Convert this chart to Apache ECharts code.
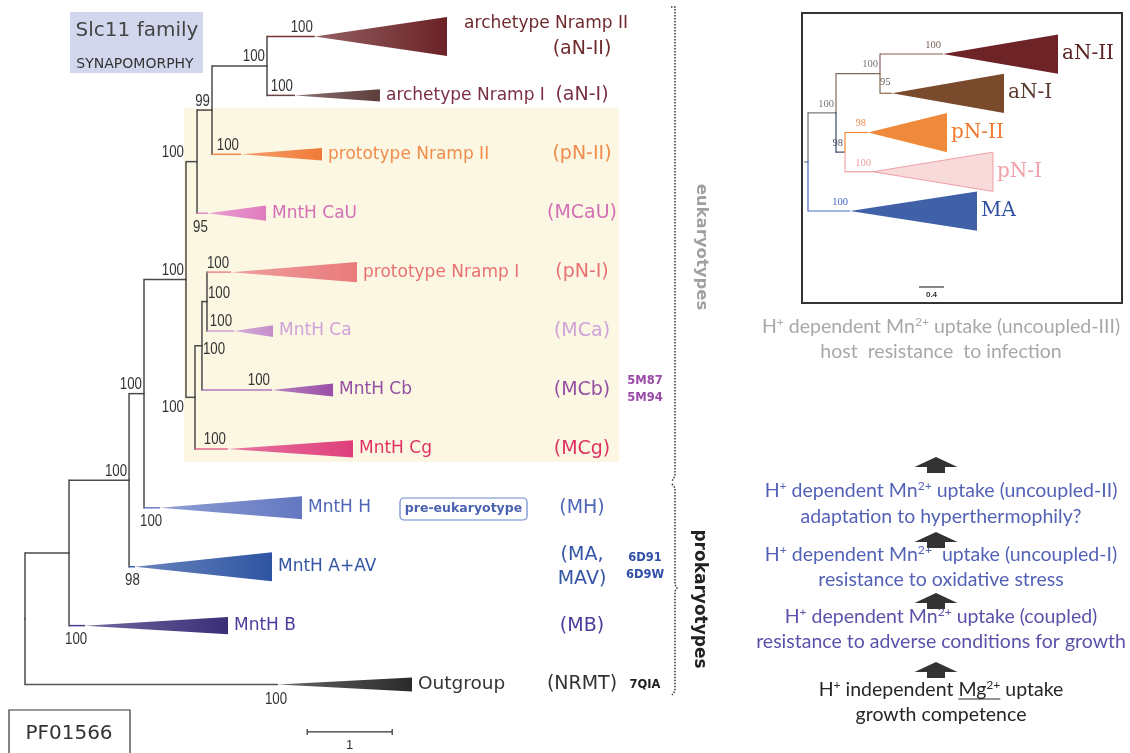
<!DOCTYPE html>
<html><head><meta charset="utf-8">
<script src="https://cdn.jsdelivr.net/npm/echarts@6.0.0/dist/echarts.min.js"></script>
<style>html,body{margin:0;padding:0;background:#fff;}#chart{width:1130px;height:753px;}</style>
</head><body><div id="chart"></div>
<script>
// ================= DATA =================
// Main Slc11 tree – internal nodes (depth in substitutions/site, scale bar = 1)
const innerNames   = ['root','A','B','C','D','E','F','G','H','I','J'];
const innerParent  = [null,'root','A','B','C','D','E','F','D','H','I'];
const innerDepth   = [0,0.518,1.224,1.400,1.894,2.024,2.200,2.847,2.000,2.082,2.141];
const innerSupport = [null,null,100,100,100,100,99,100,100,100,100];
// Main tree – collapsed clades
const cladeNames   = ['aN-II','aN-I','pN-II','MCaU','pN-I','MCa','MCb','MCg','MH','MA','MB','Out'];
const cladeParent  = ['G','G','F','E','J','J','I','H','C','B','A','root'];
const cladeRow     = [0,1,2,3,4,5,6,7,8,9,10,11];
const cladeApex    = [3.41,3.176,2.541,2.153,2.424,2.459,2.906,2.388,1.588,1.294,0.706,2.976];
const cladeEnd     = [4.965,4.176,3.494,2.835,3.906,2.918,3.624,3.859,3.259,2.906,2.388,4.553];
const cladeSpread  = [0.33,0.105,0.105,0.13,0.17,0.10,0.11,0.145,0.195,0.245,0.145,0.12];
const cladeSupport = [100,100,100,95,100,100,100,100,100,98,100,100];
const cladeTitle   = ['archetype Nramp II','archetype Nramp I','prototype Nramp II','MntH CaU','prototype Nramp I','MntH Ca','MntH Cb','MntH Cg','MntH H','MntH A+AV','MntH B','Outgroup'];
const cladeCode    = ['(aN-II)','(aN-I)','(pN-II)','(MCaU)','(pN-I)','(MCa)','(MCb)','(MCg)','(MH)','(MA,\nMAV)','(MB)','(NRMT)'];
const cladePDB     = ['','','','','','','5M87\n5M94','','','6D91\n6D9W','','7QIA'];
const mainScale    = [3.32, 11.805, 1];      // start, row, length
const mainScaleLabel = '1';
// Inset tree
const insetInnerNames   = ['base','r','n1','n2','n3'];
const insetInnerParent  = [null,'base','r','n1','n1'];
const insetInnerDepth   = [-0.064,0,0.448,1.152,0.592];
const insetInnerSupport = [null,null,100,100,98];
const insetCladeNames   = ['aN-II','aN-I','pN-II','pN-I','MA'];
const insetCladeParent  = ['n2','n2','n3','n3','r'];
const insetCladeRow     = [0,1,2,3,4];
const insetCladeApex    = [2.16,1.344,0.96,1.04,0.672];
const insetCladeEnd     = [4.0,3.136,2.224,2.96,2.704];
const insetCladeSpread  = [0.5,0.5,0.5,0.5,0.5];
const insetCladeSupport = [100,95,98,100,100];
const insetScale        = [1.776, 5.936, 0.4];
const insetScaleLabel   = '0.4';
// Functional stages (text)
const stageText = [
  ['H^+ dependent Mn^2+ uptake (uncoupled-III)', 'host  resistance  to infection'],
  ['H^+ dependent Mn^2+ uptake (uncoupled-II)', 'adaptation to hyperthermophily?'],
  ['H^+ dependent Mn^2+  uptake (uncoupled-I)', 'resistance to oxidative stress'],
  ['H^+ dependent Mn^2+ uptake (coupled)', 'resistance to adverse conditions for growth'],
  ['H^+ independent _Mg^2+_ uptake', 'growth competence']
];

// ================= STYLE =================
const SANS = "'DejaVu Sans', Verdana, sans-serif";
const BOOT = "'Liberation Sans', Arial, sans-serif";
const SERIF = "'DejaVu Serif', serif";
const GRAY = '#4a4a4a';
const cladeStyle = {
  'aN-II': {tri:'#6b2226', br:'#7a3434', txt:'#6e2a2c'},
  'aN-I':  {tri:'#5d3d3a', br:'#6a4444', txt:'#7b2f42'},
  'pN-II': {tri:'#f07a38', br:'#f08848', txt:'#f08c4c'},
  'MCaU':  {tri:'#e07abf', br:'#e58cc8', txt:'#d46fb8'},
  'pN-I':  {tri:'#e97a7a', br:'#ec8a8a', txt:'#e87272'},
  'MCa':   {tri:'#c48dca', br:'#cfa0d4', txt:'#d0a2d8'},
  'MCb':   {tri:'#9a4ea6', br:'#b27abf', txt:'#9450a2', pdb:'#9a4aa8'},
  'MCg':   {tri:'#df3f7b', br:'#e4648f', txt:'#e03262'},
  'MH':    {tri:'#6378c2', br:'#6a7ec4', txt:'#5066b6'},
  'MA':    {tri:'#2e54a2', br:'#3a5eaa', txt:'#3555a5', pdb:'#3050a8'},
  'MB':    {tri:'#3a2e78', br:'#4a4090', txt:'#4a3c9c'},
  'Out':   {tri:'#2a2a2a', br:'#555555', txt:'#333333', pdb:'#222', big:true}
};
const mainSupPlace = {E:'pa', H:'pb', I:'br', J:'ar', 'c:MCaU':'pb2', 'c:MH':'pb2', 'c:MA':'pb2', 'c:MB':'pb2', 'c:Out':'bc'};
const insetStyle = {
  base:{stem:'#777', br:'#777'},
  r:{stem:'#777', br:'#777'},
  n1:{stem:'#6e6e6e', br:'#777777', sup:'#777'},
  n2:{stem:'#806a60', br:'#806a60', sup:'#777'},
  n3:{stem:'#3b4768', br:'#3b4768', sup:'#4a5068'},
  'aN-II':{stem:'#806060', br:'#8a5c58', tri:'#6e2427', txt:'#5e2326', sup:'#7a6258'},
  'aN-I': {stem:'#806a50', br:'#8a6a50', tri:'#7a4a2c', txt:'#5a3a2c', sup:'#6a5a50'},
  'pN-II':{stem:'#ef8a3c', br:'#ef8a3c', tri:'#ef8a3c', txt:'#ef7a30', sup:'#ec9050'},
  'pN-I': {stem:'#f0a8a8', br:'#f0a0a0', tri:'#f8dada', triStroke:'#eea0a8', txt:'#f0a0a8', sup:'#f0a0a0'},
  'MA':   {stem:'#4a6ac8', br:'#4a6ac8', tri:'#4060a8', txt:'#3050a0', sup:'#4a6ac8'}
};
const insetSupPlace = {'c:aN-I':'pr'};

// ================= HELPERS =================
function layoutTree(iN, iP, iD, iS, cN, cP, cR, cA, cE, cSp, cS) {
  const nodes = {}, list = [];
  iN.forEach((n, i) => { nodes[n] = {key:n, name:n, parent:iP[i], x:iD[i], support:iS[i], inner:true, kids:[]}; list.push(nodes[n]); });
  cN.forEach((n, i) => { const k = 'c:' + n; nodes[k] = {key:k, name:n, idx:i, parent:cP[i], x:cA[i], end:cE[i], y:cR[i], half:cSp[i], support:cS[i], inner:false, kids:[]}; list.push(nodes[k]); });
  list.forEach(nd => { if (nd.parent) nodes[nd.parent].kids.push(nd); });
  function gy(nd) { if (nd.y != null) return nd.y; const ys = nd.kids.map(gy); nd.y = (Math.min(...ys) + Math.max(...ys)) / 2; return nd.y; }
  list.forEach(gy);
  return {nodes, list};
}
function mix(hex, t) {
  const c = hex.replace('#', ''); const f = c.length === 3 ? c.split('').map(x => x + x).join('') : c;
  const r = parseInt(f.substr(0,2),16), g = parseInt(f.substr(2,2),16), b = parseInt(f.substr(4,2),16);
  const m = v => Math.round(v + (255 - v) * t);
  return 'rgb(' + m(r) + ',' + m(g) + ',' + m(b) + ')';
}
function supportPos(code, p, pp) {
  switch (code) {
    case 'pa':  return {x:pp[0]-2, y:p[1]-9, align:'right'};
    case 'pb':  return {x:pp[0]-2, y:p[1]+10, align:'right'};
    case 'pb2': return {x:pp[0]-4, y:p[1]+14, align:'left'};
    case 'ar':  return {x:p[0]+1, y:p[1]-8, align:'left'};
    case 'br':  return {x:p[0]+1, y:p[1]+4, align:'left'};
    case 'bc':  return {x:p[0]-2, y:p[1]+15, align:'center'};
    case 'am':  return {x:(p[0]+pp[0])/2, y:p[1]-12, align:'center'};
    case 'pr':  return {x:pp[0], y:p[1]-11, align:'left'};
    default:    return {x:p[0]-2, y:p[1]-9, align:'right'};
  }
}
function makeRenderer(tree, cfg) {
  return function (params, api) {
    const nd = tree.list[params.dataIndex];
    const st = cfg.style(nd);
    const ch = [];
    const p = api.coord([nd.x, nd.y]);
    let pp = p;
    if (nd.parent) {
      const P = tree.nodes[nd.parent];
      const a = api.coord([P.x, P.y]);
      pp = api.coord([P.x, nd.y]);
      ch.push({type:'line', shape:{x1:a[0], y1:a[1], x2:pp[0], y2:pp[1]}, style:{stroke:st.stem, lineWidth:cfg.lw, lineCap:'square'}});
      ch.push({type:'line', shape:{x1:pp[0], y1:pp[1], x2:p[0], y2:p[1]}, style:{stroke:st.br, lineWidth:cfg.lw}});
    }
    if (!nd.inner) {
      const e1 = api.coord([nd.end, nd.y - nd.half]);
      const e2 = api.coord([nd.end, nd.y + nd.half]);
      const fill = cfg.gradient ? new echarts.graphic.LinearGradient(0, 0, 1, 0, [{offset:0, color:mix(st.tri, cfg.gradient)}, {offset:1, color:st.tri}]) : st.tri;
      ch.push({type:'polygon', shape:{points:[p, e1, e2]}, style:{fill:fill, stroke:st.triStroke || null, lineWidth:st.triStroke ? 1 : 0}});
    }
    if (nd.support != null) {
      const pos = supportPos(cfg.place[nd.key], p, pp);
      ch.push({type:'text', x:pos.x, y:pos.y, scaleX:cfg.supScale, style:{text:String(nd.support), x:0, y:0, align:pos.align, verticalAlign:'middle', font:cfg.supFont, fill:st.sup || '#333'}});
    }
    if (cfg.extra) cfg.extra(nd, p, api, ch, st);
    return {type:'group', children:ch};
  };
}

// ================= BUILD =================
const mainTree = layoutTree(innerNames, innerParent, innerDepth, innerSupport, cladeNames, cladeParent, cladeRow, cladeApex, cladeEnd, cladeSpread, cladeSupport);
const insetTree = layoutTree(insetInnerNames, insetInnerParent, insetInnerDepth, insetInnerSupport, insetCladeNames, insetCladeParent, insetCladeRow, insetCladeApex, insetCladeEnd, insetCladeSpread, insetCladeSupport);

const CODE_X = 582, PDB_X = 645, TITLE_RIGHT = 628;
const mainRenderer = makeRenderer(mainTree, {
  lw: 1.5, gradient: 0.28, place: mainSupPlace, supFont: '16px ' + BOOT, supScale: 0.83,
  style: nd => nd.inner ? {stem:GRAY, br:GRAY} : Object.assign({stem:GRAY}, cladeStyle[nd.name]),
  extra: (nd, p, api, ch, st) => {
    if (nd.inner) return;
    const e = api.coord([nd.end, nd.y]);
    const i = nd.idx;
    const titleFont = (st.big ? '18.5px ' : '17px ') + SANS;
    if (nd.name === 'aN-II') {
      ch.push({type:'text', style:{text:cladeTitle[i], x:TITLE_RIGHT, y:e[1]-12.5, align:'right', verticalAlign:'middle', font:titleFont, fill:st.txt}});
      ch.push({type:'text', style:{text:cladeCode[i], x:CODE_X, y:e[1]+12.5, align:'center', verticalAlign:'middle', font:'19px ' + SANS, fill:st.txt}});
    } else {
      ch.push({type:'text', style:{text:cladeTitle[i], x:e[0]+6, y:e[1], align:'left', verticalAlign:'middle', font:titleFont, fill:st.txt}});
      ch.push({type:'text', style:{text:cladeCode[i], x:CODE_X, y:e[1], align:'center', verticalAlign:'middle', font:'19px ' + SANS, fill:st.txt, lineHeight:24}});
    }
    if (cladePDB[i]) {
      ch.push({type:'text', style:{text:cladePDB[i], x:PDB_X, y:e[1], align:'center', verticalAlign:'middle', font:'bold 11.5px ' + SANS, fill:st.pdb || st.txt, lineHeight:17}});
    }
  }
});
const insetRenderer = makeRenderer(insetTree, {
  lw: 1.2, gradient: 0, place: insetSupPlace, supFont: '10.5px ' + "'Liberation Serif', serif", supScale: 1,
  style: nd => insetStyle[nd.name],
  extra: (nd, p, api, ch, st) => {
    if (nd.inner) return;
    const e = api.coord([nd.end, nd.y]);
    ch.push({type:'text', style:{text:nd.name, x:e[0]+4, y:e[1], align:'left', verticalAlign:'middle', font:'20px ' + SERIF, fill:st.txt}});
  }
});
function scaleRenderer(sc, label, font, tick, gap) {
  return function (params, api) {
    const a = api.coord([sc[0], sc[1]]), b = api.coord([sc[0] + sc[2], sc[1]]);
    const ch = [{type:'line', shape:{x1:a[0], y1:a[1], x2:b[0], y2:b[1]}, style:{stroke:'#333', lineWidth:1.2}}];
    if (tick) {
      ch.push({type:'line', shape:{x1:a[0], y1:a[1]-tick, x2:a[0], y2:a[1]+tick}, style:{stroke:'#333', lineWidth:1.2}});
      ch.push({type:'line', shape:{x1:b[0], y1:b[1]-tick, x2:b[0], y2:b[1]+tick}, style:{stroke:'#333', lineWidth:1.2}});
    }
    ch.push({type:'text', style:{text:label, x:(a[0]+b[0])/2, y:a[1]+gap, align:'center', verticalAlign:'middle', font:font, fill:'#333'}});
    return {type:'group', children:ch};
  };
}

// ---------- right panel text ----------
const RP_FONT = "Lato, 'Open Sans', sans-serif";
const cv = document.createElement('canvas').getContext('2d');
function tw(t, size) { cv.font = size + 'px ' + RP_FONT; return cv.measureText(t).width; }
let RP_SIZE = 18 * 370 / tw(stageText[3][1], 18);
RP_SIZE = Math.max(15, Math.min(21, RP_SIZE));
const SUP = RP_SIZE * 0.62;
function parseLine(s) {
  const toks = []; let ul = false;
  const re = /(\^[0-9+]+)|(_)|([^\^_]+)/g; let m;
  while ((m = re.exec(s))) {
    if (m[1]) toks.push({t:m[1].slice(1), sup:true, ul});
    else if (m[2]) ul = !ul;
    else toks.push({t:m[3], sup:false, ul});
  }
  return toks;
}
const stageColors = ['#a8a8a8', '#5462b6', '#5462b6', '#5a52aa', '#262626'];
const stageY = [[327,352],[491,517],[555,580],[617,642],[690,715]];
const arrowTop = [457, 532, 593, 662];
const CX = 941;
const graphics = [];
graphics.push({type:'rect', z:-10, shape:{x:184, y:108, width:435, height:354}, style:{fill:'#fbf7e3'}});
graphics.push({type:'rect', shape:{x:70, y:12, width:133, height:61}, style:{fill:'#d3d7ee'}});
graphics.push({type:'text', style:{text:'Slc11 family', x:137, y:31, align:'center', verticalAlign:'middle', font:'20px ' + SANS, fill:'#444'}});
graphics.push({type:'text', style:{text:'SYNAPOMORPHY', x:135, y:64, align:'center', verticalAlign:'middle', font:'14px ' + SANS, fill:'#333'}});
graphics.push({type:'rect', shape:{x:9, y:710, width:121, height:60}, style:{fill:'#fff', stroke:'#333', lineWidth:1.2}});
graphics.push({type:'text', style:{text:'PF01566', x:69, y:734, align:'center', verticalAlign:'middle', font:'20px ' + SANS, fill:'#333'}});
graphics.push({type:'rect', shape:{x:400, y:498, width:127, height:22, r:4}, style:{fill:'#fff', stroke:'#6a86cc', lineWidth:1.2}});
graphics.push({type:'text', style:{text:'pre-eukaryotype', x:463.5, y:509, align:'center', verticalAlign:'middle', font:'bold 12.5px ' + SANS, fill:'#4a62b0'}});
const dotted = {stroke:'#333', lineWidth:1.5, lineDash:[1.5,1.5], fill:null};
graphics.push({type:'polyline', shape:{points:[[671,7],[675,7],[675,476],[672,481]]}, style:dotted});
graphics.push({type:'polyline', shape:{points:[[672,484],[675,488],[675,585],[677,588],[675,591],[675,691],[672,695]]}, style:dotted});
graphics.push({type:'text', x:701, y:247, rotation:-Math.PI/2, style:{text:'eukaryotypes', x:0, y:0, align:'center', verticalAlign:'middle', font:'bold 16.5px ' + SANS, fill:'#a0a0a0'}});
graphics.push({type:'text', x:699, y:599, rotation:-Math.PI/2, style:{text:'prokaryotypes', x:0, y:0, align:'center', verticalAlign:'middle', font:'bold 17px ' + SANS, fill:'#222'}});
graphics.push({type:'rect', shape:{x:802, y:13, width:320, height:290}, style:{fill:null, stroke:'#333', lineWidth:2}});
stageText.forEach((pair, si) => {
  pair.forEach((line, li) => {
    const toks = parseLine(line);
    let total = 0, ulStart = null, ulEnd = null;
    toks.forEach(tk => {
      const w = tw(tk.t, tk.sup ? SUP : RP_SIZE);
      if (tk.ul && ulStart === null) ulStart = total;
      total += w;
      if (tk.ul) ulEnd = total;
    });
    const rich = toks.map(tk => '{' + (tk.sup ? 's' : 'n') + '|' + tk.t + '}').join('');
    const col = stageColors[si];
    const y = stageY[si][li];
    graphics.push({type:'text', x:CX, y:y, style:{text:rich, x:0, y:0, align:'center', verticalAlign:'middle',
      rich:{n:{fontFamily:RP_FONT, fontSize:RP_SIZE, fill:col, lineHeight:22}, s:{fontFamily:RP_FONT, fontSize:SUP, fill:col, lineHeight:13, verticalAlign:'top'}}}});
    if (ulStart !== null) {
      const x0 = CX - total / 2;
      graphics.push({type:'line', shape:{x1:x0 + ulStart, y1:y + 9, x2:x0 + ulEnd, y2:y + 9}, style:{stroke:col, lineWidth:1}});
    }
  });
});
arrowTop.forEach(t => {
  graphics.push({type:'polygon', shape:{points:[[936,t],[957.5,t+10],[945,t+10],[945,t+16],[927,t+16],[927,t+10],[914.5,t+10]]}, style:{fill:'#333'}});
});

// ================= CHART =================
const chart = echarts.init(document.getElementById('chart'), null, {renderer:'canvas'});
chart.setOption({
  animation: false,
  backgroundColor: '#fff',
  grid: [
    {left:25, top:7, width:1020, height:707},
    {left:808, top:34.375, width:312.5, height:196.25}
  ],
  xAxis: [
    {type:'value', gridIndex:0, min:0, max:12, show:false},
    {type:'value', gridIndex:1, min:0, max:5, show:false}
  ],
  yAxis: [
    {type:'value', gridIndex:0, min:-0.5, max:11.5, inverse:true, show:false},
    {type:'value', gridIndex:1, min:-0.5, max:4.5, inverse:true, show:false}
  ],
  graphic: graphics,
  series: [
    {type:'custom', xAxisIndex:0, yAxisIndex:0, clip:false, silent:true, renderItem:mainRenderer, data:mainTree.list.map(n => [n.x, n.y])},
    {type:'custom', xAxisIndex:1, yAxisIndex:1, clip:false, silent:true, renderItem:insetRenderer, data:insetTree.list.map(n => [n.x, n.y])},
    {type:'custom', xAxisIndex:0, yAxisIndex:0, clip:false, silent:true, renderItem:scaleRenderer(mainScale, mainScaleLabel, '13px ' + BOOT, 3, 13), data:[[mainScale[0], mainScale[1]]]},
    {type:'custom', xAxisIndex:1, yAxisIndex:1, clip:false, silent:true, renderItem:scaleRenderer(insetScale, insetScaleLabel, 'bold 8px ' + BOOT, 0, 8), data:[[insetScale[0], insetScale[1]]]}
  ]
});
</script></body></html>
